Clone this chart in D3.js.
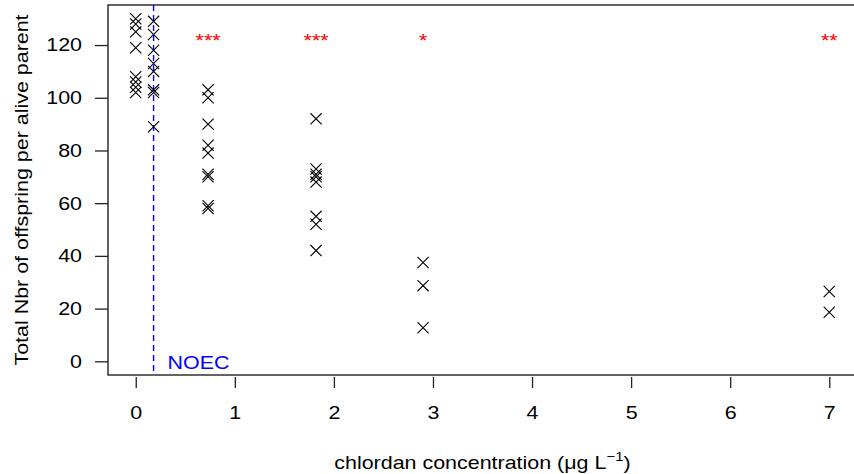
<!DOCTYPE html>
<html>
<head>
<meta charset="utf-8">
<script src="https://cdn.jsdelivr.net/npm/d3@7"></script>
<style>
  body { margin: 0; background: #fff; }
  text { font-family: "Liberation Sans", Arial, sans-serif; }
</style>
</head>
<body>
<svg id="chart" width="854" height="474"></svg>
<script>
// --- Data ---
const concentrations = [0, 0.18, 0.73, 1.82, 2.9, 7];
const offspring = [
    [130, 128, 125, 119, 108, 106, 104, 102],        // control
    [129, 124, 118, 113, 110, 103, 102, 89],         // 0.18
    [103, 100, 90, 82, 79, 71, 70, 59, 58],          // 0.73
    [92, 73, 71, 70, 68, 55, 52, 42],                // 1.82
    [37.5, 28.7, 12.7],                              // 2.9
    [26.5, 18.6]                                     // 7
];
const signifConc = [0.73, 1.82, 2.9, 7];
const signifLabels = ["***", "***", "*", "**"];
const signifLevel = 122;
const noec = 0.18;
const xTicks = [0, 1, 2, 3, 4, 5, 6, 7];
const yTicks = [0, 20, 40, 60, 80, 100, 120];

// --- Layout settings ---
const box = { left: 108, right: 857, top: 5, bottom: 375 };
const fontSize = 18.5;
const stretch = 1.16; // the original glyphs are a bit wider than Liberation Sans

const svg = d3.select("#chart");

// --- Scales (R style: 4% padding on each side) ---
const x = d3.scaleLinear().domain([-0.28, 7.28]).range([box.left, box.right]);
const y = d3.scaleLinear().domain([-5.2, 135.2]).range([box.bottom, box.top]);

// long format
const points = [];
concentrations.forEach((c, i) => {
    offspring[i].forEach(v => points.push({ conc: c, value: v }));
});

// helper: text placed at (px, py) and stretched horizontally
function label(g, px, py, txt, anchor, color) {
    return g.append("text")
        .attr("transform", `translate(${px},${py}) scale(${stretch},1)`)
        .attr("text-anchor", anchor)
        .attr("fill", color)
        .style("font-size", fontSize + "px")
        .text(txt);
}

// --- NOEC line ---
svg.append("line")
    .attr("x1", x(noec)).attr("x2", x(noec))
    .attr("y1", box.top).attr("y2", box.bottom)
    .attr("stroke", "#0000ff")
    .attr("stroke-width", 1.4)
    .attr("stroke-dasharray", "6,4");

label(svg, x(noec) + 14, 369, "NOEC", "start", "#0000ff");

// --- Points (pch = 4) ---
const s = 5.6;
const marks = svg.append("g")
    .attr("stroke", "#000")
    .attr("stroke-width", 1.1)
    .attr("fill", "none");

marks.selectAll("path")
    .data(points)
    .enter()
    .append("path")
    .attr("d", d => {
        const px = x(d.conc), py = y(d.value);
        return `M${px - s},${py - s}L${px + s},${py + s}M${px - s},${py + s}L${px + s},${py - s}`;
    });

// --- Significance stars ---
signifConc.forEach((c, i) => {
    label(svg, x(c), y(signifLevel) + 7, signifLabels[i], "middle", "#ff0000");
});

// --- Box ---
svg.append("rect")
    .attr("x", box.left).attr("y", box.top)
    .attr("width", box.right - box.left)
    .attr("height", box.bottom - box.top)
    .attr("fill", "none")
    .attr("stroke", "#222")
    .attr("stroke-width", 1.4);

// --- Axes ---
const yAxis = svg.append("g")
    .attr("transform", `translate(${box.left},0)`)
    .call(d3.axisLeft(y).tickValues(yTicks).tickSize(13).tickPadding(13));
yAxis.select(".domain").remove();

const xAxis = svg.append("g")
    .attr("transform", `translate(0,${box.bottom + 2})`)
    .call(d3.axisBottom(x).tickValues(xTicks).tickSize(11).tickPadding(18));
xAxis.select(".domain").remove();

[yAxis, xAxis].forEach(g => {
    g.selectAll("text")
        .style("font-size", fontSize + "px")
        .style("font-family", "'Liberation Sans', Arial, sans-serif")
        .attr("fill", "#000");
    g.selectAll("line").attr("stroke", "#222").attr("stroke-width", 1.3);
});
// stretch tick labels about their anchor point
yAxis.selectAll("text")
    .attr("x", -26 / stretch)
    .attr("transform", `scale(${stretch},1)`);
xAxis.selectAll("text")
    .attr("transform", `scale(${stretch},1)`);

// --- Axis titles ---
const xTitle = label(svg, (box.left + box.right) / 2, 469, "", "middle", "#000");
xTitle.append("tspan").text("chlordan concentration (\u03bcg L");
xTitle.append("tspan").attr("dy", -8).style("font-size", "13px").text("\u22121");
xTitle.append("tspan").attr("dy", 8).text(")");

svg.append("text")
    .attr("transform", `translate(28,${(box.top + box.bottom) / 2}) rotate(-90) scale(${stretch},1)`)
    .attr("text-anchor", "middle")
    .style("font-size", fontSize + "px")
    .text("Total Nbr of offspring per alive parent");
</script>
</body>
</html>
